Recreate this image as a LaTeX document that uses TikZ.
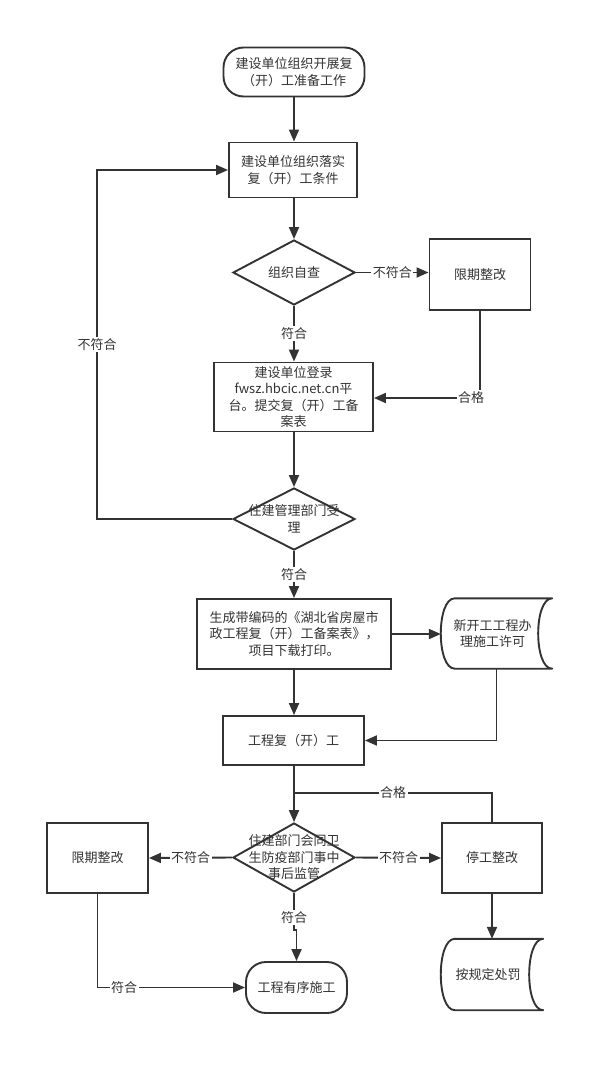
\documentclass[tikz,border=0pt]{standalone}
\usepackage{fontspec}
\setmainfont{Noto Sans CJK SC}
\usetikzlibrary{shapes.geometric,arrows.meta,calc}
\definecolor{ink}{HTML}{333333}
\newcommand\drawstoreshape[1]{%
  \draw[draw=ink, line width=1.9pt, line join=round]
    ($(#1.north west)+(14,0)$) -- (#1.north east)
    .. controls ($(#1.north east)+(-18.7,0)$) and ($(#1.south east)+(-18.7,0)$) .. (#1.south east)
    -- ($(#1.south west)+(14,0)$)
    .. controls ($(#1.south west)+(-4.7,0)$) and ($(#1.north west)+(-4.7,0)$) .. ($(#1.north west)+(14,0)$) -- cycle;}
\begin{document}
\begin{tikzpicture}[x=1pt,y=-1pt,
  every node/.style={text=ink, font=\fontsize{13}{16.5}\selectfont},
  base/.style={draw=ink, line width=1.9pt, align=center, inner sep=0pt},
  proc/.style={base, rectangle},
  termbox/.style={base, rectangle, rounded corners=20pt},
  dia/.style={base, diamond},
  store/.style={rectangle, inner sep=0pt},
  txt/.style={align=center, inner sep=0pt},
  conn/.style={draw=ink, line width=1.9pt, -{Triangle[length=12pt,width=10pt]}},
  plain/.style={draw=ink, line width=1.9pt},
  lab/.style={fill=white, inner sep=1.5pt, font=\fontsize{13}{16}\selectfont}
]
\useasboundingbox[fill=white] (0,0) rectangle (613,1075);

% nodes
\node[termbox, minimum width=141pt, minimum height=49pt] (start) at (294,72)
  {建设单位组织开展复\\（开）工准备工作};
\node[proc, minimum width=128pt, minimum height=55pt] (b2) at (293,170)
  {建设单位组织落实\\复（开）工条件};
\node[dia, minimum width=122pt, minimum height=65pt] (d1) at (294,272.5) {};
\node[txt] (d1t) at (d1.center) {组织自查};
\node[proc, minimum width=101pt, minimum height=71pt] (f1) at (480,274.5) {限期整改};
\node[proc, minimum width=159pt, minimum height=69pt] (b3) at (293.5,397)
  {建设单位登录\\fwsz.hbcic.net.cn平\\台。提交复（开）工备\\案表};
\node[dia, minimum width=122pt, minimum height=62pt] (d2) at (294,519) {};
\node[txt] (d2t) at (d2.center) {住建管理部门受\\理};
\node[proc, minimum width=194pt, minimum height=70pt] (b4) at (294,634)
  {生成带编码的《湖北省房屋市\\政工程复（开）工备案表》，\\项目下载打印。};
\node[store, minimum width=111pt, minimum height=70pt] (s1) at (496.5,633.5) {};
\drawstoreshape{s1}
\node[txt] (s1t) at ($(s1.center)+(-4,0)$) {新开工工程办\\理施工许可};
\node[proc, minimum width=141pt, minimum height=49pt] (b5) at (293.5,740.5) {工程复（开）工};
\node[dia, minimum width=122pt, minimum height=69pt] (d3) at (294,857.5) {};
\node[txt] (d3t) at (d3.center) {住建部门会同卫\\生防疫部门事中\\事后监管};
\node[proc, minimum width=101pt, minimum height=70pt] (f2) at (97.5,858) {限期整改};
\node[proc, minimum width=100pt, minimum height=70pt] (st) at (492,858) {停工整改};
\node[store, minimum width=102pt, minimum height=71pt] (s2) at (492,974.5) {};
\drawstoreshape{s2}
\node[txt] (s2t) at ($(s2.center)+(-4,0)$) {按规定处罚};
\node[termbox, minimum width=101pt, minimum height=51pt] (tm) at (296.5,987.5) {工程有序施工};

\coordinate (loopx) at (97,0);
\coordinate (j) at (294,793);
\coordinate (k) at (294,930);

% connectors
\draw[conn] (start.south) -- (start.south |- b2.north);
\draw[conn] (b2.south -| d1.north) -- (d1.north);
\draw[conn] (d1.east) -- node[lab]{不符合} (d1.east -| f1.west);
\draw[conn] (d1.south) -- node[lab]{符合} (d1.south |- b3.north);
\draw[conn] (f1.south) |- node[lab, pos=0.5, xshift=-9pt]{合格} ($(b3.east)+(0,1)$);
\draw[conn] (b3.south -| d2.north) -- (d2.north);
\draw[conn] (d2.west) -- (d2.west -| loopx) -- node[lab]{不符合} (b2.west -| loopx) -- (b2.west);
\draw[conn] (d2.south) -- node[lab]{符合} (b4.north);
\draw[conn] (b4.east) -- (b4.east -| s1.west);
\draw[conn] (b4.south) -- (b4.south |- b5.north);
\draw[conn] (s1.south) |- (b5.east);
\draw[conn] (b5.south -| d3.north) -- (d3.north);
\draw[plain] (st.north) |- node[lab, pos=0.75]{合格} (j);
\draw[conn] (d3.west) -- node[lab]{不符合} (f2.east);
\draw[conn] (d3.east) -- node[lab]{不符合} (st.west);
\draw[conn] (d3.south) -- node[lab, pos=0.65]{符合} (k) -| (tm.north);
\draw[conn] (f2.south) |- node[lab, pos=0.59]{符合} (tm.west);
\draw[conn] (st.south) -- (s2.north);
\end{tikzpicture}
\end{document}
